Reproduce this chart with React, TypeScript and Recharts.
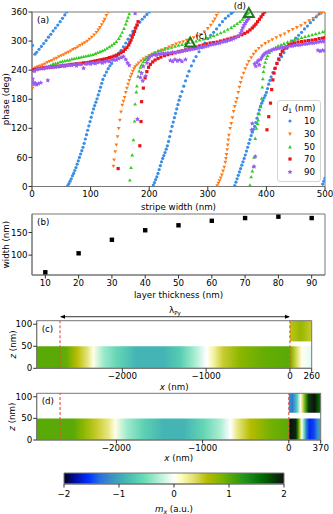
import React from 'react';
import {
  Legend,
  ReferenceArea,
  ReferenceDot,
  ReferenceLine,
  Scatter,
  ScatterChart,
  XAxis,
  YAxis,
} from 'recharts';

const FONT = '"DejaVu Sans", sans-serif';
const FS = 8.7;
const AXIS = '#777';
const TICK = { fill: '#000', fontSize: FS };

// (a) phase vs stripe width, pairs of [stripe width nm, phase deg]
const d10: [number, number][] = [
  [1, 291], [5, 273], [8, 277], [12, 283], [16, 289], [20, 295], [24, 301], [28, 308], [32, 314], [36, 321], [40, 327], [44, 333], [48, 340], [52, 347], [56, 354], [59, 360],
  [61, 2], [63, 6], [65, 11], [67, 16], [69, 22], [71, 27], [73, 33], [75, 39], [77, 46], [79, 53], [81, 60], [83, 67], [85, 74], [87, 81], [89, 89], [91, 98], [93, 107], [95, 116], [97, 125], [99, 134], [101, 143], [103, 152], [105, 160], [107, 167], [109, 174], [111, 181], [113, 189], [115, 197], [117, 205], [119, 213], [121, 221], [124, 229], [127, 236], [130, 243], [133, 249], [136, 254], [140, 261], [144, 268], [148, 275], [152, 281], [156, 288], [160, 296], [164, 304], [168, 312], [172, 320], [176, 327], [180, 333], [184, 339], [188, 345], [192, 350], [196, 355], [200, 360],
  [207, 3], [209, 8], [211, 14], [213, 20], [215, 27], [217, 35], [219, 43], [221, 51], [223, 58], [225, 64], [227, 70], [229, 77], [231, 84], [233, 93], [235, 103], [237, 114], [239, 124], [241, 133], [243, 142], [245, 151], [247, 160], [249, 169], [251, 178], [253, 186], [256, 196], [259, 207], [262, 218], [265, 228], [268, 238], [272, 249], [276, 259], [280, 268], [285, 278], [290, 287], [295, 296], [300, 305], [305, 312], [310, 318], [315, 325], [320, 333], [325, 340], [330, 347], [335, 352], [340, 357], [343, 360],
  [346, 2], [348, 9], [350, 16], [352, 23], [354, 30], [356, 37], [358, 44], [360, 51], [362, 58], [364, 65], [366, 73], [368, 81], [370, 89], [372, 97], [374, 105], [376, 112], [378, 118], [380, 124], [382, 132], [384, 141], [386, 150], [388, 158], [390, 166], [392, 172], [394, 177], [396, 183], [398, 188], [400, 194], [402, 202], [404, 211], [406, 219], [408, 226], [411, 235], [414, 243], [418, 253], [422, 261], [426, 268], [430, 276], [435, 285], [440, 294], [445, 300], [450, 306], [455, 312], [460, 318], [465, 325], [470, 331], [475, 338], [480, 344], [485, 350], [490, 356], [494, 360],
  [496, 5], [498, 11], [500, 17],
];

const d30: [number, number][] = [
  [1, 203], [3, 243], [6, 245], [10, 247], [14, 249], [18, 251], [22, 253], [26, 256], [30, 258], [34, 260], [38, 263], [42, 265], [46, 268], [50, 270], [54, 272], [58, 275], [62, 277], [66, 280], [70, 283], [74, 285], [78, 288], [82, 291], [86, 294], [90, 297], [94, 300], [98, 304], [102, 308], [106, 313], [110, 318], [113, 323], [116, 328], [119, 334], [122, 340], [124, 345], [127, 353], [130, 360],
  [139, 42], [140, 55], [142, 72], [144, 86], [146, 103], [148, 120], [150, 137], [152, 154], [154, 168], [156, 176], [158, 184], [160, 194], [162, 203], [164, 211], [166, 219], [168, 226], [170, 232], [172, 238], [174, 243], [176, 247], [179, 251], [182, 255], [186, 259], [190, 263], [195, 267], [200, 270], [205, 273], [210, 276], [216, 279], [222, 282], [228, 285], [234, 288], [240, 291], [246, 294], [252, 297], [258, 299], [264, 302], [270, 304], [276, 307], [282, 310], [288, 314], [294, 319], [300, 326], [305, 333], [309, 340], [312, 346], [315, 353], [318, 360],
  [316, 2], [318, 7], [320, 12], [322, 18], [324, 24], [326, 32], [328, 40], [330, 50], [331, 58], [332, 66], [333, 76], [334, 86], [335, 96], [336, 106], [338, 120], [340, 130], [342, 142], [344, 155], [346, 165], [348, 174], [350, 182], [352, 194], [354, 205], [356, 215], [358, 224], [361, 234], [364, 243], [367, 251], [370, 258], [374, 266], [378, 273], [382, 279], [387, 285], [392, 290], [398, 295], [404, 299], [410, 303], [417, 307], [424, 311], [431, 315], [438, 320], [445, 324], [452, 328], [459, 332], [466, 337], [473, 342], [480, 347], [487, 352], [494, 357], [500, 360],
];

const d50: [number, number][] = [
  [0, 240], [4, 241], [8, 242], [12, 243], [16, 244], [20, 245], [24, 246], [28, 248], [32, 250], [36, 253], [40, 254], [44, 255], [48, 257], [52, 258], [56, 259], [60, 260], [64, 261], [68, 263], [72, 264], [76, 265], [80, 266], [84, 267], [88, 268], [92, 269], [96, 270], [100, 271], [104, 272], [108, 274], [112, 276], [116, 278], [120, 280], [124, 282], [128, 285], [132, 288], [136, 291], [140, 295], [144, 299], [148, 305], [151, 311], [154, 318], [157, 326], [160, 335], [162, 342], [164, 349], [166, 356],
  [167, 13], [169, 39], [171, 65], [173, 96], [175, 135], [176, 170], [178, 195], [179, 207], [181, 227], [183, 238], [185, 246], [187, 251], [190, 257], [193, 262], [196, 266], [200, 270], [205, 273], [210, 276], [215, 279], [220, 281], [226, 283], [232, 285], [238, 287], [244, 289], [250, 291], [256, 293], [262, 295], [268, 297], [274, 298], [280, 300], [286, 302], [292, 304], [298, 306], [304, 308], [310, 311], [316, 314], [322, 317], [328, 320], [334, 324], [340, 328], [345, 332], [350, 336], [355, 340], [359, 345], [362, 349], [365, 353], [367, 356], [369, 359],
  [372, 3], [374, 20], [376, 32], [378, 41], [379, 60], [381, 99], [383, 120], [385, 130], [386, 137], [388, 150], [390, 165], [392, 182], [393, 205], [394, 222], [395, 237], [396, 247], [398, 256], [400, 264], [402, 270], [405, 276], [408, 280], [412, 284], [416, 287], [420, 290], [425, 292], [430, 295], [436, 298], [442, 301], [448, 303], [454, 305], [460, 307], [466, 309], [472, 311], [478, 313], [484, 315], [490, 317], [496, 319], [500, 320],
];

const d70: [number, number][] = [
  [0, 240], [4, 241], [8, 242], [12, 243], [16, 244], [20, 245], [24, 245], [28, 246], [32, 246], [36, 247], [40, 247], [44, 248], [48, 248], [52, 249], [56, 250], [60, 250], [64, 251], [68, 252], [72, 252], [76, 253], [80, 253], [84, 254], [88, 255], [92, 255], [96, 256], [100, 257], [104, 258], [108, 259], [112, 260], [116, 261], [120, 262], [124, 263], [128, 264], [132, 266], [136, 267], [140, 269], [144, 271], [148, 273], [152, 276], [156, 279], [159, 283], [162, 287], [165, 292], [167, 297], [169, 302], [171, 308], [173, 314], [175, 320], [177, 327], [179, 333], [181, 340],
  [147, 37], [184, 84], [186, 134], [187, 175], [190, 203], [193, 224], [196, 237], [199, 246], [202, 252], [206, 257], [210, 261], [215, 264], [220, 267], [226, 270], [232, 272], [238, 274], [244, 276], [250, 278], [256, 280], [262, 282], [268, 284], [274, 286], [280, 288], [286, 290], [292, 292], [298, 294], [304, 296], [310, 297], [316, 298], [322, 300], [328, 302], [334, 304], [340, 306], [346, 308], [352, 310], [358, 313], [363, 316], [368, 319], [372, 323], [376, 327], [379, 331], [382, 335], [385, 340], [388, 345], [391, 350], [394, 355], [397, 360],
  [401, 117], [404, 144], [407, 172], [409, 200], [411, 220], [413, 234], [415, 244], [418, 254], [421, 263], [424, 272], [427, 279], [430, 284], [434, 288], [438, 292], [443, 294], [448, 296], [454, 298], [460, 299], [466, 300], [472, 301], [478, 302], [484, 303], [490, 305], [496, 306], [500, 307],
];

const d90: [number, number][] = [
  [1, 222], [2, 215], [4, 211], [6, 213], [8, 210], [11, 212], [15, 214], [27, 219],
  [4, 238], [8, 241], [12, 243], [16, 244], [20, 243], [24, 246], [28, 245], [32, 247], [36, 246], [40, 248], [44, 247], [48, 249], [52, 250], [56, 248], [60, 250], [64, 251], [68, 250], [72, 252], [76, 249], [80, 253], [84, 252], [88, 244], [92, 253], [96, 254], [100, 253], [104, 255], [108, 254], [112, 256], [116, 257], [120, 255], [124, 257], [128, 259], [132, 258], [136, 261], [140, 262], [144, 261], [148, 264], [152, 266], [156, 268], [160, 262], [163, 255], [166, 250],
  [176, 357], [180, 139],
  [185, 225], [187, 234], [189, 218], [190, 248], [194, 228], [196, 255], [198, 262], [200, 266], [204, 270], [208, 272], [212, 271], [216, 273], [220, 274], [224, 275], [228, 274], [232, 276], [236, 275], [240, 277], [244, 276], [248, 278], [252, 278], [256, 279], [260, 280], [264, 281], [268, 282], [272, 283], [276, 284], [280, 285], [284, 286], [288, 287], [292, 288], [296, 289], [300, 290], [304, 292], [308, 293], [312, 294], [316, 295], [320, 296], [324, 298], [328, 299], [332, 300], [336, 302], [340, 303], [344, 305], [348, 307], [352, 310], [356, 316], [358, 322], [360, 328], [362, 333], [364, 337], [366, 341], [368, 344], [370, 347],
  [236, 260], [240, 258], [244, 262], [248, 259], [252, 261], [256, 258], [262, 262],
  [375, 117], [376, 130], [379, 41], [381, 62],
  [380, 253], [382, 248], [384, 256], [386, 260], [388, 251], [390, 262], [392, 266], [394, 270], [396, 272], [398, 275], [401, 277], [404, 279], [408, 281], [412, 283], [416, 284], [420, 285], [424, 286], [428, 287], [432, 288], [436, 289], [440, 290], [444, 290], [448, 291], [452, 292], [456, 292], [460, 293], [464, 294], [468, 294], [472, 295], [476, 296], [480, 296], [484, 297], [488, 298], [492, 299], [496, 299], [500, 300],
  [488, 281], [492, 279], [496, 281], [500, 280],
];

const stripeTicks = [0, 100, 200, 300, 400, 500];
const phaseTicks = [0, 30, 60, 90, 120, 150, 180, 210, 240, 270, 300, 330, 360];

// marked states (c) and (d) in panel (a)
const markC = { w: 270, p: 297 };
const markD = { w: 370, p: 358 };

// (b) domain width vs layer thickness
const thickness = [10, 20, 30, 40, 50, 60, 70, 80, 90];
const domainWidth = [62, 104, 134, 155, 166, 176, 182, 185, 182];

// (c) / (d) m_x profiles along x (nm): lower layer z 0-50, upper layer z 62-108
const cLowX = [-3022, -2750, -2664, -2545, -2425, -2346, -2227, -2067, -1829, -1511, -1312, -1153, -993, -914, -795, -596, -318, -20, 20, 80, 140, 200, 260];
const cLowM = [1.0, 1.0, 0.95, 0.6, 0.35, 0.05, -0.35, -0.6, -0.9, -0.9, -0.7, -0.35, 0, 0.2, 0.5, 0.8, 0.95, 1.0, 0.8, 0.4, 0.05, -0.05, -0.1];
const cUpX = [0, 130, 260];
const cUpM = [0.55, 0.75, 0.5];
const dLowX = [-2924, -2498, -2382, -2226, -2091, -2014, -1877, -1684, -1452, -1219, -987, -793, -676, -599, -444, -212, -3, 8, 20, 80, 100, 125, 150, 175, 205, 240, 290, 330, 370];
const dLowM = [1.0, 1.0, 0.8, 0.5, 0.3, 0.05, -0.35, -0.65, -0.9, -0.9, -0.6, -0.3, 0, 0.3, 0.6, 0.9, 1.0, 1.8, 2.0, 1.9, 1.5, 0.6, 0.0, -0.5, -1.3, -1.6, -1.5, -1.2, -1.0];
const dUpX = [0, 40, 95, 135, 160, 195, 230, 300, 340, 370];
const dUpM = [-1.1, -1.3, -0.7, 0, 0.4, 1.1, 1.8, 2.0, 1.7, 1.5];
const cDash = [-2744, 0];
const dDash = [-2653, 0];

// colormap for m_x
const cmapVals = [-2, -1.78, -1.56, -1.35, -1.17, -1.0, -0.74, -0.5, -0.26, 0, 0.12, 0.36, 0.6, 0.85, 1.03, 1.33, 1.64, 2];
const cmapColors = ['#000028', '#0010a8', '#0030ff', '#2a6ee0', '#3a8cc8', '#3ca8b6', '#50c8b0', '#72e0b8', '#b8f0d8', '#ffffff', '#fffcc0', '#e0e070', '#b6bc00', '#80b400', '#52a808', '#1a8e1a', '#006400', '#101010'];

const hexRgb = (h: string) => [1, 3, 5].map((i) => parseInt(h.slice(i, i + 2), 16));

function cmap(v: number) {
  let i = 0;
  while (i < cmapVals.length - 2 && v > cmapVals[i + 1]) i++;
  const t = Math.min(1, Math.max(0, (v - cmapVals[i]) / (cmapVals[i + 1] - cmapVals[i])));
  const a = hexRgb(cmapColors[i]);
  const b = hexRgb(cmapColors[i + 1]);
  return `rgb(${a.map((c, k) => Math.round(c + (b[k] - c) * t)).join(',')})`;
}

function Grad({ id, xs, ms }: { id: string; xs: number[]; ms: number[] }) {
  const x0 = xs[0];
  const x1 = xs[xs.length - 1];
  return (
    <linearGradient id={id} x1="0" y1="0" x2="1" y2="0">
      {xs.map((x, i) => (
        <stop key={i} offset={(x - x0) / (x1 - x0)} stopColor={cmap(ms[i])} />
      ))}
    </linearGradient>
  );
}

type Kind = 'circle' | 'down' | 'up' | 'square' | 'pent';

function Marker({ cx, cy, kind, color }: { cx: number; cy: number; kind: Kind; color: string }) {
  if (cx == null || cy == null) return null;
  switch (kind) {
    case 'circle':
      return <circle cx={cx} cy={cy} r={1.6} fill={color} />;
    case 'down':
      return <path d={`M${cx - 1.9},${cy - 1.4}L${cx + 1.9},${cy - 1.4}L${cx},${cy + 1.9}Z`} fill={color} />;
    case 'up':
      return <path d={`M${cx - 1.9},${cy + 1.4}L${cx + 1.9},${cy + 1.4}L${cx},${cy - 1.9}Z`} fill={color} />;
    case 'square':
      return <rect x={cx - 1.6} y={cy - 1.6} width={3.2} height={3.2} fill={color} />;
    default: {
      const pts = [0, 1, 2, 3, 4, 5, 6, 7, 8, 9]
        .map((k) => {
          const r = k % 2 === 0 ? 2.6 : 1.3;
          const a = -Math.PI / 2 + (k * Math.PI) / 5;
          return `${cx + r * Math.cos(a)},${cy + r * Math.sin(a)}`;
        })
        .join(' ');
      return <polygon points={pts} fill={color} />;
    }
  }
}

const seriesA: { name: string; data: [number, number][]; color: string; kind: Kind }[] = [
  { name: '10', data: d10, color: '#3a8ee6', kind: 'circle' },
  { name: '30', data: d30, color: '#ff7a14', kind: 'down' },
  { name: '50', data: d50, color: '#33cc22', kind: 'up' },
  { name: '70', data: d70, color: '#e8141c', kind: 'square' },
  { name: '90', data: d90, color: '#9a5cf2', kind: 'pent' },
];

const minus = (v: number) => String(v).replace('-', '\u2212');

const xLabel = (content: React.ReactNode, dy: number) => (props: any) => {
  const vb = props.viewBox;
  return (
    <text x={vb.x + vb.width / 2} y={vb.y + dy} textAnchor="middle" fontSize={FS} fill="#000">
      {content}
    </text>
  );
};

const yLabel = (content: React.ReactNode, dx: number) => (props: any) => {
  const vb = props.viewBox;
  const x = vb.x + dx;
  const y = vb.y + vb.height / 2;
  return (
    <text x={x} y={y} transform={`rotate(-90 ${x} ${y})`} textAnchor="middle" dominantBaseline="central" fontSize={FS} fill="#000">
      {content}
    </text>
  );
};

const panelLabel = (text: string) => ({ value: text, position: 'insideTopLeft' as const, offset: 5, fontSize: FS, fill: '#000' });

function MarkTriangle(label: string, dx: number, dy: number) {
  return (props: any) => {
    const { cx, cy } = props;
    return (
      <g>
        <path d={`M${cx - 5},${cy + 4}L${cx + 5},${cy + 4}L${cx},${cy - 5}Z`} fill="none" stroke="#1f7a1f" strokeWidth={2} strokeLinejoin="miter" />
        <text x={cx + dx} y={cy + dy} fontSize={FS} fill="#000" textAnchor="middle">
          {label}
        </text>
      </g>
    );
  };
}

function LegendBox() {
  return (
    <div
      style={{
        width: 44,
        height: 82,
        border: '1px solid #d4d4d4',
        borderRadius: 3,
        background: 'rgba(255,255,255,0.8)',
        boxSizing: 'border-box',
        fontFamily: FONT,
        fontSize: FS,
        color: '#000',
      }}
    >
      <div style={{ textAlign: 'center', height: 14, lineHeight: '15px', whiteSpace: 'nowrap' }}>
        <i>d</i>
        <span style={{ fontSize: 6.2, verticalAlign: -2, lineHeight: 0 }}>1</span> (nm)
      </div>
      {seriesA.map((s) => (
        <div key={s.name} style={{ display: 'flex', alignItems: 'center', height: 12.7 }}>
          <svg width={22} height={8} style={{ display: 'block' }}>
            <Marker cx={12} cy={4} kind={s.kind} color={s.color} />
          </svg>
          <span style={{ marginLeft: 4 }}>{s.name}</span>
        </div>
      ))}
    </div>
  );
}

function Arrow(props: any) {
  const { x1, y1, x2, y2 } = props;
  return (
    <g>
      <line x1={x1 + 1} y1={y1} x2={x2 - 1} y2={y2} stroke="#000" strokeWidth={0.8} />
      <path d={`M${x1},${y1}L${x1 + 5},${y1 - 2}L${x1 + 5},${y1 + 2}Z`} fill="#000" />
      <path d={`M${x2},${y2}L${x2 - 5},${y2 - 2}L${x2 - 5},${y2 + 2}Z`} fill="#000" />
      <text x={(x1 + x2) / 2} y={y1 - 3.5} textAnchor="middle" fontSize={FS} fill="#000">
        λ<tspan fontSize={5.5} dy={1.5}>Py</tspan>
      </text>
    </g>
  );
}

function HeatPanel(props: {
  top: number;
  height: number;
  marginTop: number;
  right: number;
  xAxisH: number;
  domain: [number, number];
  ticks: number[];
  low: [number[], number[]];
  up: [number[], number[]];
  upBottom: number;
  dash: number[];
  tag: string;
  id: string;
  labelDy: number;
  arrow?: boolean;
}) {
  const { low, up, domain, dash, id } = props;
  return (
    <div style={{ position: 'absolute', left: 0, top: props.top }}>
      <ScatterChart width={333} height={props.height} margin={{ top: props.marginTop, right: props.right, bottom: 0, left: 0 }}>
        <defs>
          <Grad id={`${id}low`} xs={low[0]} ms={low[1]} />
          <Grad id={`${id}up`} xs={up[0]} ms={up[1]} />
        </defs>
        <XAxis
          type="number"
          dataKey="x"
          domain={domain}
          ticks={props.ticks}
          allowDataOverflow
          tickFormatter={minus}
          tick={TICK}
          tickSize={3.5}
          tickMargin={1}
          height={props.xAxisH}
          axisLine={{ stroke: AXIS }}
          tickLine={{ stroke: '#333' }}
          label={xLabel(<><tspan fontStyle="italic">x</tspan> (nm)</>, props.labelDy)}
        />
        <YAxis
          type="number"
          dataKey="z"
          domain={[0, 108]}
          ticks={[0, 50, 100]}
          allowDataOverflow
          tick={TICK}
          tickSize={3.5}
          tickMargin={1}
          width={36.7}
          axisLine={{ stroke: AXIS }}
          tickLine={{ stroke: '#333' }}
          label={yLabel(<><tspan fontStyle="italic">z</tspan> (nm)</>, 12.5)}
        />
        <Scatter data={low[0].map((x) => ({ x, z: 25 }))} fill="none" isAnimationActive={false} />
        <ReferenceArea x1={low[0][0]} x2={low[0][low[0].length - 1]} y1={0} y2={50} fill={`url(#${id}low)`} fillOpacity={1} stroke="none" />
        <ReferenceArea x1={up[0][0]} x2={up[0][up[0].length - 1]} y1={props.upBottom} y2={108} fill={`url(#${id}up)`} fillOpacity={1} stroke="none" />
        {dash.map((x) => (
          <ReferenceLine key={x} x={x} stroke="#ec4b44" strokeWidth={1.1} strokeDasharray="3 2" />
        ))}
        {props.arrow && (
          <ReferenceLine
            segment={[
              { x: dash[0], y: 117 },
              { x: dash[1], y: 117 },
            ]}
            ifOverflow="visible"
            shape={Arrow}
          />
        )}
        <ReferenceArea x1={domain[0]} x2={domain[1]} y1={0} y2={108} fill="none" fillOpacity={0} stroke={AXIS} label={panelLabel(props.tag)} />
      </ScatterChart>
    </div>
  );
}

export default function App() {
  const bData = thickness.map((t, i) => ({ t, wd: domainWidth[i] }));
  return (
    <div style={{ position: 'absolute', left: 0, top: 0, width: 333, height: 514, background: '#fff', fontFamily: FONT }}>
      {/* (a) */}
      <div style={{ position: 'absolute', left: 0, top: 0 }}>
        <ScatterChart width={333} height={215} margin={{ top: 12, right: 8, bottom: 0, left: 0 }}>
          <XAxis
            type="number"
            dataKey="w"
            domain={[0, 500]}
            ticks={stripeTicks}
            allowDataOverflow
            tick={TICK}
            tickSize={3.5}
            tickMargin={1}
            height={28.5}
            axisLine={{ stroke: AXIS }}
            tickLine={{ stroke: '#333' }}
            label={xLabel('stripe width (nm)', 23.5)}
          />
          <YAxis
            type="number"
            dataKey="p"
            domain={[0, 360]}
            ticks={phaseTicks}
            allowDataOverflow
            tick={TICK}
            tickSize={3.5}
            tickMargin={1}
            width={32}
            axisLine={{ stroke: AXIS }}
            tickLine={{ stroke: '#333' }}
            label={yLabel('phase (deg)', 6)}
          />
          <ReferenceArea x1={0} x2={500} y1={0} y2={360} fill="none" fillOpacity={0} stroke={AXIS} label={panelLabel('(a)')} />
          {seriesA.map((s) => (
            <Scatter
              key={s.name}
              name={s.name}
              data={s.data.map(([w, p]) => ({ w, p }))}
              fill={s.color}
              isAnimationActive={false}
              shape={(pr: any) => <Marker cx={pr.cx} cy={pr.cy} kind={s.kind} color={s.color} />}
            />
          ))}
          <ReferenceDot x={markC.w} y={markC.p} ifOverflow="visible" shape={MarkTriangle('(c)', 11, -4)} />
          <ReferenceDot x={markD.w} y={markD.p} ifOverflow="visible" shape={MarkTriangle('(d)', -9, -4)} />
          <Legend
            layout="vertical"
            align="center"
            verticalAlign="middle"
            content={() => <LegendBox />}
            wrapperStyle={{ left: 277, top: 100, width: 44, height: 82 }}
          />
        </ScatterChart>
      </div>

      {/* (b) */}
      <div style={{ position: 'absolute', left: 0, top: 200 }}>
        <ScatterChart width={333} height={105} margin={{ top: 14, right: 8, bottom: 0, left: 0 }}>
          <XAxis
            type="number"
            dataKey="t"
            domain={[6, 94]}
            ticks={thickness}
            allowDataOverflow
            tick={TICK}
            tickSize={3.5}
            tickMargin={1}
            height={30}
            axisLine={{ stroke: AXIS }}
            tickLine={{ stroke: '#333' }}
            label={xLabel('layer thickness (nm)', 22.5)}
          />
          <YAxis
            type="number"
            dataKey="wd"
            domain={[56, 191]}
            ticks={[100, 150]}
            allowDataOverflow
            tick={TICK}
            tickSize={3.5}
            tickMargin={1}
            width={32}
            axisLine={{ stroke: AXIS }}
            tickLine={{ stroke: '#333' }}
            label={yLabel('width (nm)', 6)}
          />
          <ReferenceArea x1={6} x2={94} y1={56} y2={191} fill="none" fillOpacity={0} stroke={AXIS} label={panelLabel('(b)')} />
          <Scatter
            data={bData}
            fill="#000"
            isAnimationActive={false}
            shape={(pr: any) => <rect x={pr.cx - 2.2} y={pr.cy - 2.2} width={4.4} height={4.4} fill="#000" />}
          />
        </ScatterChart>
      </div>

      {/* (c) */}
      <HeatPanel
        top={300}
        height={95}
        marginTop={20.7}
        right={21.3}
        xAxisH={26.7}
        domain={[-3022, 260]}
        ticks={[-2000, -1000, 0, 260]}
        low={[cLowX, cLowM]}
        up={[cUpX, cUpM]}
        upBottom={61}
        dash={cDash}
        tag="(c)"
        id="gc"
        labelDy={22}
        arrow
      />

      {/* (d) */}
      <HeatPanel
        top={375}
        height={90}
        marginTop={18.3}
        right={12.3}
        xAxisH={25}
        domain={[-2924, 370]}
        ticks={[-2000, -1000, 0, 370]}
        low={[dLowX, dLowM]}
        up={[dUpX, dUpM]}
        upBottom={63}
        dash={dDash}
        tag="(d)"
        id="gd"
        labelDy={21}
      />

      {/* colorbar */}
      <div style={{ position: 'absolute', left: 0, top: 465 }}>
        <ScatterChart width={333} height={49} margin={{ top: 8, right: 49, bottom: 0, left: 64 }}>
          <defs>
            <linearGradient id="cbar" x1="0" y1="0" x2="1" y2="0">
              {cmapVals.map((v, i) => (
                <stop key={i} offset={(v + 2) / 4} stopColor={cmapColors[i]} />
              ))}
            </linearGradient>
          </defs>
          <XAxis
            type="number"
            dataKey="m"
            domain={[-2, 2]}
            ticks={[-2, -1, 0, 1, 2]}
            tickFormatter={minus}
            tick={TICK}
            tickSize={3.5}
            tickMargin={3}
            height={30}
            axisLine={{ stroke: AXIS }}
            tickLine={{ stroke: '#333' }}
            label={xLabel(
              <>
                <tspan fontStyle="italic">m</tspan>
                <tspan fontStyle="italic" fontSize={6.2} dy={2}>x</tspan>
                <tspan dy={-2}> (a.u.)</tspan>
              </>,
              27.5,
            )}
          />
          <YAxis type="number" dataKey="v" domain={[0, 1]} hide />
          <Scatter data={cmapVals.map((m) => ({ m, v: 0.5 }))} fill="none" isAnimationActive={false} />
          <ReferenceArea x1={-2} x2={2} y1={0} y2={1} fill="url(#cbar)" fillOpacity={1} stroke={AXIS} />
        </ScatterChart>
      </div>
    </div>
  );
}
